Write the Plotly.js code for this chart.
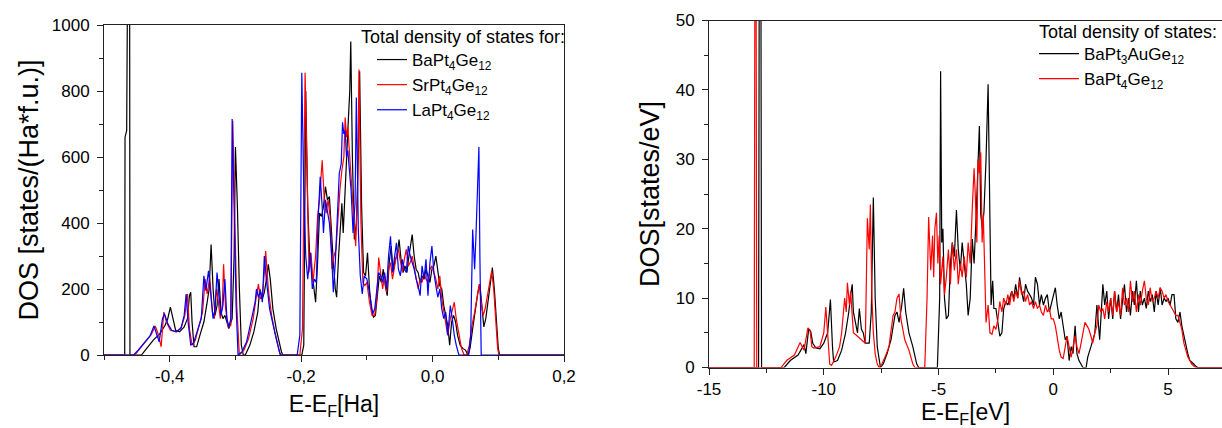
<!DOCTYPE html>
<html>
<head>
<meta charset="utf-8">
<script src="https://cdn.plot.ly/plotly-3.0.1.min.js"></script>
<style>html,body{margin:0;padding:0;background:#fff;overflow:hidden;}#chart{width:1222px;height:428px;overflow:hidden;}</style>
</head>
<body>
<div id="chart"></div>
<script>
// ---------- Left panel: E-E_F [Ha] vs DOS [states/(Ha*f.u.)] ----------
const legendTitleLeft = "Total density of states for:";
const seriesNamesLeft = ["BaPt<sub>4</sub>Ge<sub>12</sub>", "SrPt<sub>4</sub>Ge<sub>12</sub>", "LaPt<sub>4</sub>Ge<sub>12</sub>"];
const leftXTicks = [-0.4, -0.2, 0.0, 0.2];
const leftXTickText = ["-0,4", "-0,2", "0,0", "0,2"];
const leftYTicks = [0, 200, 400, 600, 800, 1000];

const dosBaPt4Ge12 = [[-0.5,0],[-0.4685,0],[-0.468,660],[-0.4655,680],[-0.464,1200],[-0.461,1200],[-0.4605,0],
[-0.443,0],[-0.435,20],[-0.425,45],[-0.415,65],[-0.407,90],[-0.403,110],[-0.399,145],[-0.395,110],[-0.391,75],[-0.385,70],
[-0.378,85],[-0.373,110],[-0.370,180],[-0.368,190],[-0.366,100],[-0.363,25],[-0.359,25],[-0.354,60],[-0.348,100],[-0.343,160],
[-0.340,200],[-0.337,335],[-0.334,200],[-0.331,120],[-0.328,150],[-0.325,230],[-0.322,130],[-0.319,110],[-0.316,120],[-0.313,100],
[-0.310,80],[-0.305,110],[-0.302,300],[-0.300,630],[-0.297,450],[-0.294,200],[-0.291,30],[-0.288,0],[-0.285,0],[-0.278,30],
[-0.272,70],[-0.266,130],[-0.263,200],[-0.259,170],[-0.256,190],[-0.252,240],[-0.250,275],[-0.247,230],[-0.243,140],[-0.238,80],
[-0.234,40],[-0.230,10],[-0.228,0],[-0.199,0],[-0.196,30],[-0.193,800],[-0.190,450],[-0.187,300],[-0.184,260],[-0.181,200],
[-0.178,160],[-0.175,280],[-0.172,430],[-0.169,420],[-0.166,450],[-0.163,510],[-0.160,470],[-0.157,480],[-0.154,370],[-0.151,280],
[-0.148,200],[-0.146,175],[-0.143,300],[-0.140,420],[-0.138,460],[-0.136,370],[-0.133,520],[-0.130,650],[-0.128,720],[-0.126,800],
[-0.1245,950],[-0.122,600],[-0.119,350],[-0.116,400],[-0.113,600],[-0.111,860],[-0.108,450],[-0.105,250],[-0.102,240],[-0.099,310],
[-0.096,200],[-0.093,140],[-0.090,115],[-0.087,120],[-0.084,180],[-0.081,240],[-0.078,220],[-0.075,260],[-0.072,210],[-0.069,180],
[-0.066,280],[-0.063,330],[-0.060,250],[-0.057,290],[-0.054,300],[-0.051,350],[-0.048,290],[-0.045,250],[-0.042,270],[-0.039,250],
[-0.036,300],[-0.033,340],[-0.031,365],[-0.028,300],[-0.025,260],[-0.022,250],[-0.019,220],[-0.016,240],[-0.013,230],[-0.010,260],
[-0.007,240],[-0.004,220],[-0.001,260],[0.002,270],[0.005,300],[0.008,250],[0.011,210],[0.014,200],[0.017,150],[0.020,120],
[0.023,90],[0.026,30],[0.029,100],[0.032,120],[0.035,100],[0.038,60],[0.042,30],[0.046,20],[0.050,15],[0.054,0],[0.057,20],
[0.061,80],[0.065,140],[0.069,190],[0.072,215],[0.075,160],[0.078,85],[0.081,110],[0.085,180],[0.089,250],[0.091,265],[0.094,200],
[0.097,100],[0.100,20],[0.102,0],[0.2,0]];

const dosSrPt4Ge12 = [[-0.5,0],[-0.453,0],[-0.445,20],[-0.435,45],[-0.428,62],[-0.422,88],[-0.417,60],[-0.413,25],[-0.409,130],
[-0.405,100],[-0.399,75],[-0.390,70],[-0.382,85],[-0.377,120],[-0.373,185],[-0.370,80],[-0.366,30],[-0.361,45],[-0.356,80],
[-0.350,130],[-0.346,230],[-0.343,185],[-0.339,235],[-0.335,130],[-0.332,110],[-0.329,200],[-0.326,160],[-0.323,110],[-0.320,150],
[-0.318,275],[-0.315,140],[-0.311,85],[-0.307,90],[-0.304,710],[-0.301,420],[-0.298,150],[-0.294,0],[-0.287,15],[-0.280,50],
[-0.273,110],[-0.268,180],[-0.265,215],[-0.262,170],[-0.259,180],[-0.256,250],[-0.254,315],[-0.250,200],[-0.245,120],[-0.240,70],
[-0.235,20],[-0.232,0],[-0.202,0],[-0.198,80],[-0.194,855],[-0.191,500],[-0.188,250],[-0.185,310],[-0.182,220],[-0.178,300],
[-0.175,420],[-0.172,470],[-0.168,590],[-0.165,480],[-0.162,430],[-0.159,470],[-0.156,420],[-0.153,260],[-0.150,300],[-0.147,320],
[-0.144,420],[-0.141,500],[-0.138,560],[-0.135,600],[-0.133,720],[-0.131,660],[-0.129,690],[-0.126,600],[-0.123,540],[-0.120,420],
[-0.117,330],[-0.114,500],[-0.112,865],[-0.109,400],[-0.106,220],[-0.103,210],[-0.100,220],[-0.096,160],[-0.092,120],[-0.088,120],
[-0.085,170],[-0.082,295],[-0.079,250],[-0.076,200],[-0.073,240],[-0.070,190],[-0.067,260],[-0.064,280],[-0.061,230],[-0.058,270],
[-0.055,300],[-0.052,320],[-0.049,290],[-0.046,250],[-0.043,290],[-0.040,320],[-0.037,270],[-0.034,280],[-0.031,300],[-0.028,270],
[-0.025,240],[-0.022,200],[-0.019,230],[-0.016,220],[-0.013,250],[-0.010,230],[-0.007,220],[-0.004,260],[-0.001,270],[0.002,250],
[0.005,230],[0.008,200],[0.011,240],[0.014,170],[0.017,130],[0.020,100],[0.023,60],[0.027,110],[0.030,140],[0.033,160],[0.036,110],
[0.040,60],[0.044,20],[0.048,0],[0.052,0],[0.056,30],[0.060,90],[0.064,130],[0.068,175],[0.071,215],[0.074,160],[0.077,120],
[0.080,140],[0.084,190],[0.088,240],[0.090,255],[0.093,200],[0.096,100],[0.099,20],[0.101,0],[0.2,0]];

const dosLaPt4Ge12 = [[-0.5,0],[-0.455,0],[-0.448,15],[-0.44,35],[-0.43,58],[-0.424,88],[-0.419,60],[-0.416,40],[-0.411,110],
[-0.408,125],[-0.403,95],[-0.397,75],[-0.390,70],[-0.383,80],[-0.378,120],[-0.375,185],[-0.372,100],[-0.368,30],[-0.364,35],
[-0.358,70],[-0.352,110],[-0.348,240],[-0.345,195],[-0.341,255],[-0.337,160],[-0.334,110],[-0.331,140],[-0.328,250],[-0.325,180],
[-0.322,120],[-0.319,150],[-0.316,230],[-0.313,110],[-0.310,85],[-0.307,110],[-0.305,715],[-0.302,450],[-0.299,150],[-0.296,0],
[-0.290,10],[-0.283,40],[-0.276,100],[-0.270,160],[-0.268,200],[-0.265,175],[-0.262,195],[-0.259,160],[-0.256,300],[-0.253,230],
[-0.248,140],[-0.243,90],[-0.238,50],[-0.233,10],[-0.231,0],[-0.206,0],[-0.202,60],[-0.199,855],[-0.196,500],[-0.193,300],
[-0.190,230],[-0.186,310],[-0.183,200],[-0.180,230],[-0.177,220],[-0.174,420],[-0.171,540],[-0.168,450],[-0.166,370],[-0.163,470],
[-0.160,440],[-0.157,400],[-0.154,320],[-0.151,190],[-0.148,280],[-0.145,400],[-0.142,550],[-0.139,580],[-0.137,705],[-0.135,670],
[-0.133,680],[-0.131,600],[-0.129,620],[-0.127,570],[-0.124,500],[-0.121,370],[-0.118,460],[-0.116,780],[-0.113,380],[-0.110,240],
[-0.107,185],[-0.104,240],[-0.100,230],[-0.097,200],[-0.094,160],[-0.091,125],[-0.088,140],[-0.085,200],[-0.082,250],[-0.079,240],
[-0.076,220],[-0.073,250],[-0.070,200],[-0.067,300],[-0.064,360],[-0.061,250],[-0.058,300],[-0.055,340],[-0.052,260],[-0.049,240],
[-0.046,290],[-0.043,260],[-0.040,250],[-0.037,330],[-0.034,300],[-0.031,280],[-0.028,260],[-0.025,230],[-0.022,210],[-0.019,180],
[-0.016,270],[-0.013,230],[-0.010,290],[-0.007,180],[-0.004,280],[-0.001,330],[0.002,250],[0.005,210],[0.008,175],[0.011,200],
[0.014,140],[0.017,110],[0.020,130],[0.023,60],[0.027,150],[0.030,110],[0.033,60],[0.036,30],[0.040,0],[0.055,0],[0.058,60],
[0.061,380],[0.064,260],[0.066,360],[0.0705,630],[0.072,300],[0.074,0],[0.2,0]];

// ---------- Right panel: E-E_F [eV] vs DOS [states/eV] ----------
const legendTitleRight = "Total density of states:";
const seriesNamesRight = ["BaPt<sub>3</sub>AuGe<sub>12</sub>", "BaPt<sub>4</sub>Ge<sub>12</sub>"];
const rightXTicks = [-15, -10, -5, 0, 5];
const rightXTickText = ["-15", "-10", "-5", "0", "5"];
const rightYTicks = [0, 10, 20, 30, 40, 50];

const dosBaPt3AuGe12 = [[-15,0],[-12.84,0],[-12.81,60],[-12.74,60],[-12.71,0],[-11.72,0],[-11.46,1.0],[-11.12,1.8],[-10.86,3.3],
[-10.78,2.0],[-10.66,5.5],[-10.57,5.2],[-10.48,3.5],[-10.34,2.8],[-10.17,2.7],[-10.0,3.5],[-9.83,5.0],[-9.71,9.8],[-9.62,3.0],
[-9.57,0.8],[-9.40,1.0],[-9.22,2.5],[-9.05,5.0],[-8.91,8.0],[-8.83,10.5],[-8.76,12.0],[-8.71,8.0],[-8.62,6.5],[-8.53,5.0],[-8.45,8.5],
[-8.36,5.5],[-8.28,5.0],[-8.19,3.5],[-8.02,3.5],[-7.93,8.0],[-7.84,24.5],[-7.76,10],[-7.67,3],[-7.53,0],[-7.41,0.5],[-7.24,2],
[-7.07,4],[-6.90,7.5],[-6.81,8],[-6.72,6.5],[-6.60,9],[-6.52,11.4],[-6.43,8],[-6.29,5],[-6.12,3],[-5.95,0.5],[-5.86,0],[-5.05,0],
[-4.95,10],[-4.91,42.7],[-4.86,18],[-4.81,20],[-4.74,10],[-4.66,7],[-4.57,7.5],[-4.48,15],[-4.40,18],[-4.31,16],[-4.22,22.7],
[-4.14,17],[-4.05,14],[-3.97,18],[-3.88,15],[-3.79,12],[-3.71,7.5],[-3.62,10],[-3.53,18.5],[-3.45,15],[-3.36,22],[-3.31,27],
[-3.22,34.8],[-3.16,22],[-3.09,20],[-3.02,22.5],[-2.93,30],[-2.84,40.8],[-2.76,20],[-2.71,9],[-2.64,12.5],[-2.59,8.5],[-2.50,8.5],
[-2.41,6],[-2.33,4.5],[-2.24,5],[-2.16,8.5],[-2.07,9.5],[-1.98,9],[-1.90,10],[-1.81,11],[-1.72,10],[-1.64,12],[-1.55,10],[-1.47,13],
[-1.38,11],[-1.29,9.5],[-1.21,12],[-1.12,11],[-1.03,10.5],[-0.95,10],[-0.86,9],[-0.78,13],[-0.69,12],[-0.60,9],[-0.52,10.5],
[-0.43,9],[-0.34,10],[-0.26,10.5],[-0.17,8],[-0.09,9],[0.09,11.5],[0.17,9],[0.26,7],[0.34,8],[0.43,6],[0.52,4],[0.60,4.5],[0.69,1],
[0.78,3],[0.86,2],[0.95,6],[1.03,2],[1.12,1],[1.29,0],[1.43,0],[1.50,1.5],[1.64,3],[1.81,5],[1.90,9],[1.95,7],[2.02,4],[2.09,8],
[2.16,12],[2.24,9],[2.33,11],[2.41,7],[2.50,10],[2.59,7],[2.67,11],[2.76,8],[2.84,10.5],[2.93,7],[3.02,9.5],[3.10,12],[3.19,8],
[3.28,10],[3.36,7.5],[3.45,11],[3.53,9],[3.62,12.5],[3.71,8],[3.79,11],[3.88,9],[3.97,10],[4.05,8.5],[4.14,11],[4.22,9.5],[4.31,10.5],
[4.40,8],[4.48,11],[4.57,9],[4.66,11.5],[4.74,9],[4.83,10],[4.91,9.5],[5.00,10],[5.09,9],[5.17,10.5],[5.26,10.5],[5.34,7],[5.43,6.5],
[5.52,8],[5.60,6],[5.69,4.5],[5.78,3],[5.86,2],[5.95,1],[6.03,0.8],[6.12,0.5],[6.20,0.2],[6.29,0],[7.35,0]];

const dosBaPt4Ge12_eV = [[-15,0],[-13.03,0],[-13.0,60],[-12.95,60],[-12.92,0],[-11.86,0],[-11.62,1.0],[-11.28,1.8],[-11.03,3.6],
[-10.95,3.0],[-10.86,2.5],[-10.69,5.7],[-10.6,5.4],[-10.52,3.0],[-10.43,2.8],[-10.17,3.0],[-10.0,5.0],[-9.91,8.7],[-9.83,4.0],
[-9.74,0.5],[-9.66,0.3],[-9.48,1.5],[-9.31,3.0],[-9.22,5.0],[-9.09,10.0],[-9.02,8.0],[-8.97,12.2],[-8.88,9.0],[-8.83,11.0],[-8.76,7.0],
[-8.71,5.0],[-8.53,4.5],[-8.36,4.0],[-8.19,3.5],[-8.10,21.5],[-8.02,17.0],[-7.97,23.5],[-7.90,10.0],[-7.84,5.0],[-7.76,2.0],[-7.67,0.5],
[-7.59,0],[-7.47,0.5],[-7.33,1.5],[-7.16,3.0],[-6.98,7.5],[-6.90,8.0],[-6.81,10.0],[-6.72,10.6],[-6.64,7.0],[-6.47,4.0],[-6.29,2.5],
[-6.12,0.5],[-6.03,0],[-5.60,0],[-5.50,10],[-5.43,21.7],[-5.34,14],[-5.26,19],[-5.21,13],[-5.16,20],[-5.09,22.3],[-5.03,15],[-4.97,19],
[-4.91,12],[-4.81,16],[-4.74,10.5],[-4.66,13],[-4.57,17],[-4.48,12],[-4.40,18],[-4.31,14],[-4.22,17],[-4.14,12],[-4.05,15],[-3.97,13],
[-3.88,16],[-3.79,13],[-3.71,18],[-3.62,15],[-3.53,23],[-3.45,28.7],[-3.40,25],[-3.33,18],[-3.28,30],[-3.22,28],[-3.16,31],[-3.10,18],
[-3.05,22],[-2.98,10],[-2.93,6.5],[-2.84,9],[-2.76,5],[-2.67,4.8],[-2.59,6],[-2.50,5.5],[-2.41,7],[-2.33,9.5],[-2.24,8],[-2.16,10],
[-2.07,9],[-1.98,10.5],[-1.90,9],[-1.81,11],[-1.72,9.5],[-1.64,11],[-1.55,10],[-1.47,12.5],[-1.38,10.5],[-1.29,11],[-1.21,9.5],
[-1.12,10.5],[-1.03,9],[-0.95,9.5],[-0.86,8.5],[-0.78,9.5],[-0.69,8.5],[-0.60,9],[-0.52,8],[-0.43,7.5],[-0.34,9],[-0.26,8],[-0.17,8.5],
[-0.09,7],[0.0,7],[0.09,6],[0.17,4],[0.26,2.5],[0.34,1.5],[0.43,1.3],[0.52,3],[0.60,4.5],[0.69,3],[0.78,1.5],[0.86,3],[0.95,4.5],
[1.03,3],[1.12,2],[1.21,3.5],[1.29,5],[1.38,6.5],[1.47,6],[1.55,5.5],[1.64,4.5],[1.72,3.5],[1.81,5],[1.90,6],[1.98,9],[2.07,8],
[2.16,8.5],[2.24,7],[2.33,9.5],[2.41,8],[2.50,10],[2.59,7.5],[2.67,11],[2.76,8],[2.84,9.5],[2.93,7.5],[3.02,11.5],[3.10,9],[3.19,10],
[3.28,8],[3.36,12.5],[3.45,9.5],[3.53,11],[3.62,8],[3.71,10.5],[3.79,9],[3.88,11],[3.97,12.5],[4.05,10],[4.14,9],[4.22,11.5],[4.31,9.5],
[4.40,10],[4.48,11],[4.57,10],[4.66,11.5],[4.74,11],[4.83,10],[4.91,10.5],[5.00,9.5],[5.09,9],[5.17,8.5],[5.26,8],[5.34,7.5],[5.43,7.5],
[5.52,6.5],[5.60,5.5],[5.69,3.5],[5.78,2.5],[5.86,1.5],[5.95,1],[6.03,0.5],[6.12,0.2],[6.20,0],[7.35,0]];

const FONT = "Arial, 'Liberation Sans', sans-serif";
const W = 1222, H = 428;
const px = (a, b) => [a / W, b / W];
const py = (top, bottom) => [(H - bottom) / H, (H - top) / H];

function line(pairs, name, color, xa, ya, legend) {
  return {
    x: pairs.map(p => p[0]), y: pairs.map(p => p[1]),
    type: 'scatter', mode: 'lines', name: name,
    line: {color: color, width: 1.2},
    xaxis: xa, yaxis: ya, legend: legend
  };
}

const traces = [
  line(dosBaPt4Ge12, seriesNamesLeft[0], '#000000', 'x', 'y', 'legend'),
  line(dosSrPt4Ge12, seriesNamesLeft[1], '#ff0000', 'x', 'y', 'legend'),
  line(dosLaPt4Ge12, seriesNamesLeft[2], '#0000ff', 'x', 'y', 'legend'),
  line(dosBaPt3AuGe12, seriesNamesRight[0], '#000000', 'x2', 'y2', 'legend2'),
  line(dosBaPt4Ge12_eV, seriesNamesRight[1], '#ff0000', 'x2', 'y2', 'legend2')
];

const axisCommon = {
  showgrid: false, zeroline: false, showline: true, linecolor: '#222', linewidth: 1,
  ticks: 'outside', ticklen: 6, tickwidth: 1, tickcolor: '#222',
  tickfont: {family: FONT, size: 17, color: '#000'}, fixedrange: true
};
const minorStyle = {ticklen: 4, ticks: 'outside', tickcolor: '#222', showgrid: false, tickmode: 'linear'};

const layout = {
  width: W, height: H, autosize: false,
  margin: {l: 0, r: 0, t: 0, b: 0},
  paper_bgcolor: '#fff', plot_bgcolor: '#fff',
  font: {family: FONT, color: '#000'},
  showlegend: true,
  xaxis: Object.assign({}, axisCommon, {
    domain: px(104, 564), anchor: 'y', range: [-0.5, 0.2], mirror: true,
    tickmode: 'array', tickvals: leftXTicks, ticktext: leftXTickText,
    minor: Object.assign({tick0: -0.5, dtick: 0.1}, minorStyle),
    title: {text: 'E-E<sub>F</sub>[Ha]', font: {family: FONT, size: 23}, standoff: 10}
  }),
  yaxis: Object.assign({}, axisCommon, {
    domain: py(25, 355), anchor: 'x', range: [0, 1000], mirror: true,
    tickmode: 'array', tickvals: leftYTicks,
    minor: Object.assign({tick0: 0, dtick: 100}, minorStyle),
    ticklabelstandoff: 4,
    title: {text: 'DOS [states/(Ha*f.u.)]', font: {family: FONT, size: 27}, standoff: 5}
  }),
  xaxis2: Object.assign({}, axisCommon, {
    domain: px(709, 1222), anchor: 'y2', range: [-15, 7.35], mirror: true,
    tickmode: 'array', tickvals: rightXTicks, ticktext: rightXTickText,
    minor: Object.assign({tick0: -15, dtick: 2.5}, minorStyle),
    title: {text: 'E-E<sub>F</sub>[eV]', font: {family: FONT, size: 23}, standoff: 18}
  }),
  yaxis2: Object.assign({}, axisCommon, {
    domain: py(20.5, 367.5), anchor: 'x2', range: [0, 50], mirror: false,
    tickmode: 'array', tickvals: rightYTicks,
    minor: Object.assign({tick0: 0, dtick: 5}, minorStyle),
    ticklabelstandoff: 4,
    title: {text: 'DOS[states/eV]', font: {family: FONT, size: 27}, standoff: 8}
  }),
  legend: {
    x: 372 / W, xanchor: 'left', y: (H - 42) / H, yanchor: 'top',
    bgcolor: 'rgba(0,0,0,0)', borderwidth: 0,
    font: {family: FONT, size: 17, color: '#000'},
    tracegroupgap: 0, itemwidth: 30
  },
  legend2: {
    x: 1034 / W, xanchor: 'left', y: (H - 36) / H, yanchor: 'top',
    bgcolor: 'rgba(0,0,0,0)', borderwidth: 0,
    font: {family: FONT, size: 17, color: '#000'},
    tracegroupgap: 0, itemwidth: 40
  },
  annotations: [
    {text: legendTitleLeft, xref: 'paper', yref: 'paper', x: 567 / W, y: (H - 37) / H,
     xanchor: 'right', yanchor: 'middle', showarrow: false, font: {family: FONT, size: 18, color: '#000'}},
    {text: legendTitleRight, xref: 'paper', yref: 'paper', x: 1037 / W, y: (H - 32) / H,
     xanchor: 'left', yanchor: 'middle', showarrow: false, font: {family: FONT, size: 18, color: '#000'}}
  ]
};

Plotly.newPlot('chart', traces, layout, {displayModeBar: false, staticPlot: true});
</script>
</body>
</html>
